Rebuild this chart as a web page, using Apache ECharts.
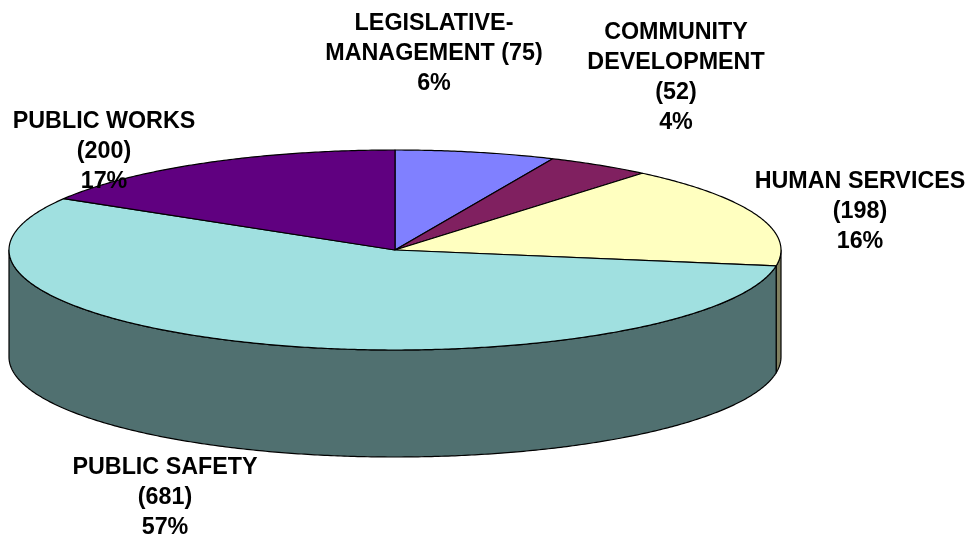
<!DOCTYPE html>
<html>
<head>
<meta charset="utf-8">
<style>html,body{margin:0;padding:0;background:#fff}#c{width:969px;height:536px}</style>
<script src="https://cdn.jsdelivr.net/npm/echarts@6/dist/echarts.min.js"></script>
</head>
<body>
<div id="c"></div>
<script>
// Data, clockwise from 12 o'clock
const categories = ['LEGISLATIVE-\nMANAGEMENT (75)', 'COMMUNITY\nDEVELOPMENT\n(52)', 'HUMAN SERVICES\n(198)', 'PUBLIC SAFETY\n(681)', 'PUBLIC WORKS\n(200)'];
const values = [75, 52, 198, 681, 200];
const percents = ['6%', '4%', '16%', '57%', '17%'];

// Styles and layout (kept apart from the data)
const topColors = ['#8080FF', '#802060', '#FFFFC0', '#A0E0E0', '#600080'];
const sideColors = ['#404080', '#401030', '#808060', '#507070', '#300040'];
const labelAnchors = [[434, 8], [676, 17], [860, 166.5], [165, 452], [104, 106.5]];
const cx = 395, cy = 250, rx = 386, ry = 100, depth = 107, lineH = 30.2;

const total = values.reduce((a, b) => a + b, 0);
const starts = [];
values.reduce((acc, v, i) => { starts[i] = acc; return acc + v; }, 0);

const rad = d => d * Math.PI / 180;
// Slight perspective shift of the sweep angle in the original's 3-D projection
const warp = t => t + 3 * Math.pow(Math.abs(Math.sin(rad(t / 2))), 0.3) * (1 - t / 400);
const pt = (t, dy) => [cx + rx * Math.sin(rad(t)), cy - ry * Math.cos(rad(t)) + (dy || 0)];
const arc = (a, b, dy) => {
  const out = [], n = Math.max(2, Math.ceil(Math.abs(b - a) * 2));
  for (let i = 0; i <= n; i++) out.push(pt(a + (b - a) * i / n, dy));
  return out;
};
const line = { stroke: '#000', lineWidth: 1.2, lineJoin: 'round' };

function renderItem(params, api) {
  const i = params.dataIndex;
  const v = api.value(0);
  const a = warp(starts[i] / total * 360);
  const b = warp((starts[i] + v) / total * 360);
  const children = [];
  const wa = Math.max(a, 90), wb = Math.min(b, 270);
  if (wb > wa) {
    children.push({
      type: 'polygon', z2: 1,
      shape: { points: arc(wa, wb, 0).concat(arc(wb, wa, depth)) },
      style: Object.assign({ fill: sideColors[i] }, line)
    });
  }
  children.push({
    type: 'polygon', z2: 10,
    shape: { points: [[cx, cy]].concat(arc(a, b, 0)) },
    style: Object.assign({ fill: topColors[i] }, line)
  });
  children.push({
    type: 'text', z2: 100,
    x: labelAnchors[i][0], y: labelAnchors[i][1],
    style: {
      text: categories[i] + '\n' + percents[i],
      fill: '#000', align: 'center', verticalAlign: 'top',
      font: 'bold 23.3px "Liberation Sans", Arial, sans-serif',
      lineHeight: lineH
    }
  });
  return { type: 'group', children };
}

const chart = echarts.init(document.getElementById('c'), null, { renderer: 'canvas' });
chart.setOption({
  animation: false,
  backgroundColor: '#ffffff',
  series: [{
    type: 'custom',
    coordinateSystem: 'none',
    silent: true,
    renderItem,
    data: values.map((v, i) => ({ name: categories[i], value: [v] }))
  }]
});
</script>
</body>
</html>
